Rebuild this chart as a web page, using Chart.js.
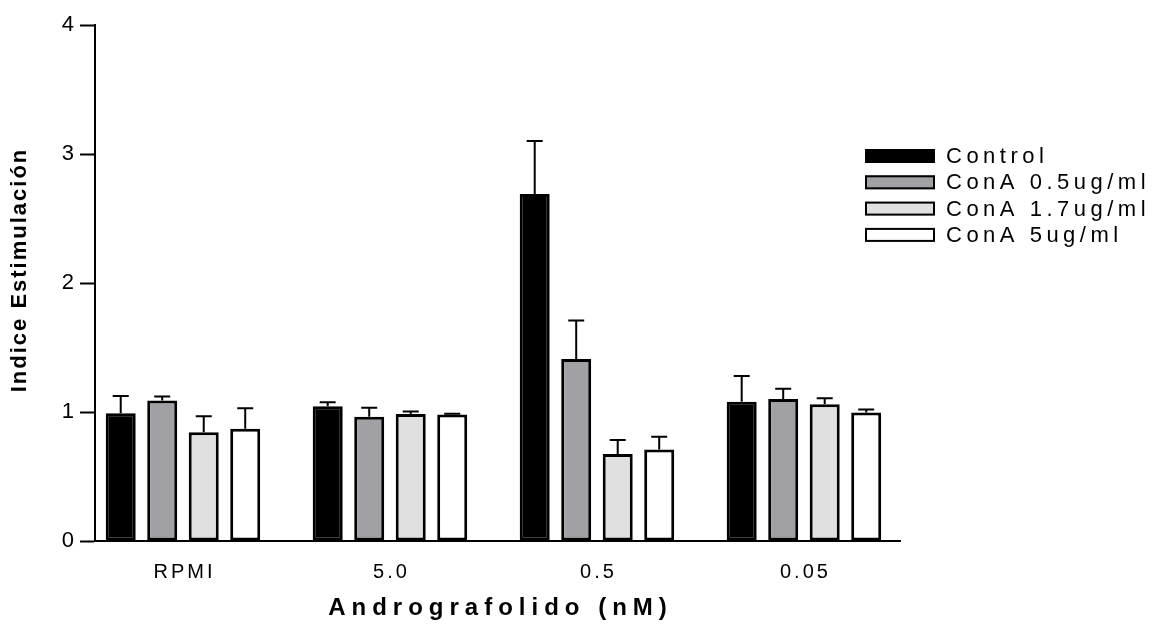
<!DOCTYPE html>
<html>
<head>
<meta charset="utf-8">
<script src="https://cdn.jsdelivr.net/npm/chart.js@4.4.1/dist/chart.umd.min.js"></script>
<style>
  html, body { margin: 0; padding: 0; background: #fff; }
  #wrap { width: 1159px; height: 624px; }
</style>
</head>
<body>
<div id="wrap"><canvas id="myChart" width="1159" height="624"></canvas></div>
<script>
const categories = ["RPMI", "5.0", "0.5", "0.05"];
const seriesNames = ["Control", "ConA 0.5ug/ml", "ConA 1.7ug/ml", "ConA 5ug/ml"];
const control = [0.99, 1.045, 2.69, 1.08];
const conA05 = [1.09, 0.964, 1.41, 1.10];
const conA17 = [0.843, 0.985, 0.675, 1.06];
const conA5 = [0.87, 0.98, 0.71, 0.996];
const controlErr = [0.135, 0.03, 0.41, 0.20];
const conA05Err = [0.03, 0.068, 0.30, 0.08];
const conA17Err = [0.125, 0.018, 0.108, 0.047];
const conA5Err = [0.16, 0.006, 0.098, 0.024];
const yTicks = [0, 1, 2, 3, 4];

const fills = ["#000000", "#a1a1a5", "#e0e0e0", "#ffffff"];
const values = [control, conA05, conA17, conA5];
const errors = [controlErr, conA05Err, conA17Err, conA5Err];

const FONT = "'Liberation Sans', Arial, sans-serif";

// error bars (upper only) drawn through the scales
const errorBars = {
  id: "errorBars",
  afterDatasetsDraw(chart) {
    const ctx = chart.ctx;
    const y = chart.scales.y;
    ctx.save();
    ctx.strokeStyle = "#000";
    ctx.lineWidth = 2;
    chart.data.datasets.forEach((ds, i) => {
      const meta = chart.getDatasetMeta(i);
      meta.data.forEach((bar, j) => {
        const top = y.getPixelForValue(ds.data[j].y + ds.errors[j]);
        ctx.beginPath();
        ctx.moveTo(bar.x, bar.y);
        ctx.lineTo(bar.x, top);
        ctx.moveTo(bar.x - 8, top);
        ctx.lineTo(bar.x + 8, top);
        ctx.stroke();
      });
    });
    ctx.restore();
  }
};

// letter-spaced axis titles and x labels
const textSpacing = {
  id: "textSpacing",
  beforeDraw(chart) {
    const wrap = (s, name, spacing, dx, dy) => {
      const orig = s[name].bind(s);
      s[name] = function (...args) {
        const ctx = this.ctx;
        ctx.save();
        ctx.letterSpacing = spacing;
        ctx.translate(dx, dy);
        orig(...args);
        ctx.restore();
      };
    };
    const x = chart.scales.x, y = chart.scales.y;
    if (x._spaced) return;
    wrap(x, "drawTitle", "6px", 3, 0);
    wrap(x, "drawLabels", "3px", 1.5, 0);
    wrap(y, "drawTitle", "2px", 0, -13);
    x._spaced = true;
  }
};

// legend to the right, overlapping the plot's empty corner
const sideLegend = {
  id: "sideLegend",
  afterDraw(chart) {
    const ctx = chart.ctx;
    ctx.save();
    ctx.font = "22px " + FONT;
    ctx.letterSpacing = "4.5px";
    ctx.textBaseline = "middle";
    chart.data.datasets.forEach((ds, i) => {
      const cy = 156 + i * 26.3;
      ctx.fillStyle = ds.backgroundColor;
      ctx.fillRect(865, cy - 7, 70, 14);
      ctx.strokeStyle = "#000";
      ctx.lineWidth = 2;
      ctx.strokeRect(866, cy - 6, 68, 12);
      ctx.fillStyle = "#000";
      ctx.fillText(ds.label, 946, cy + 1);
    });
    ctx.restore();
  }
};

const ctx = document.getElementById("myChart");
new Chart(ctx, {
  type: "bar",
  data: {
    datasets: seriesNames.map((name, i) => ({
      label: name,
      data: values[i].map((v, j) => ({ x: j, y: v })),
      errors: errors[i],
      backgroundColor: fills[i],
      borderColor: "#000",
      borderWidth: 3,
      borderSkipped: false,
      categoryPercentage: 0.802,
      barPercentage: 0.723
    }))
  },
  options: {
    responsive: false,
    animation: false,
    layout: { padding: { top: 25, right: 259, bottom: 0, left: 0 } },
    plugins: { legend: { display: false }, tooltip: { enabled: false } },
    scales: {
      x: {
        type: "linear",
        offset: false,
        min: -0.425,
        max: 3.464,
        afterBuildTicks(scale) { scale.ticks = categories.map((c, i) => ({ value: i })); },
        afterFit(scale) { scale.height = 83; },
        grid: { offset: false, drawOnChartArea: false, drawTicks: false },
        border: { color: "#000", width: 2 },
        ticks: {
          padding: 19,
          color: "#000",
          font: { family: FONT, size: 20 },
          callback: v => categories[v]
        },
        title: {
          display: true,
          text: "Andrografolido (nM)",
          color: "#000",
          font: { family: FONT, size: 24, weight: "bold" },
          padding: { top: 0, bottom: 1 }
        }
      },
      y: {
        min: 0,
        max: 4,
        afterBuildTicks(scale) { scale.ticks = yTicks.map(v => ({ value: v })); },
        afterFit(scale) { scale.width = 95; },
        grid: { drawOnChartArea: false, drawTicks: true, tickLength: 15, tickWidth: 2, tickColor: "#000" },
        border: { color: "#000", width: 2 },
        ticks: { padding: 6, color: "#000", font: { family: FONT, size: 22 } },
        title: {
          display: true,
          text: "Indice Estimulación",
          color: "#000",
          font: { family: FONT, size: 22, weight: "bold" },
          padding: { top: 7, bottom: 0 }
        }
      }
    }
  },
  plugins: [errorBars, textSpacing, sideLegend]
});
</script>
</body>
</html>
